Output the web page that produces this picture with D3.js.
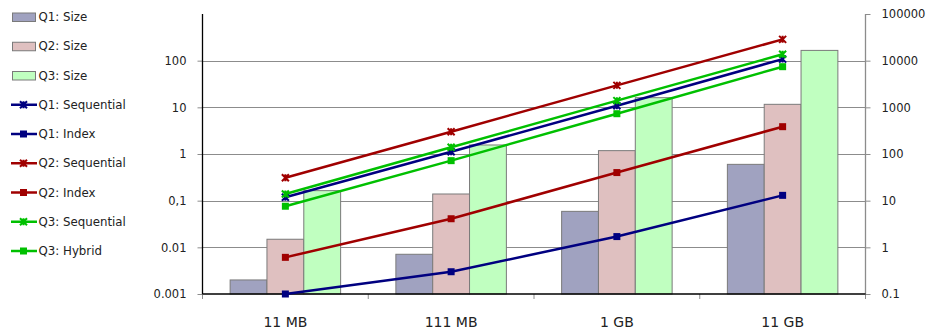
<!DOCTYPE html>
<html>
<head>
<meta charset="utf-8">
<script src="https://cdn.jsdelivr.net/npm/d3@7"></script>
<style>
  html, body { margin: 0; padding: 0; background: #fff; }
  svg { display: block; font-family: "DejaVu Sans", Verdana, sans-serif; }
</style>
</head>
<body>
<svg id="chart" width="926" height="331"></svg>
<script>
// Data sets (input sizes along the x axis)
const categories = ["11 MB", "111 MB", "1 GB", "11 GB"];

// Bars, read on the left log axis
const sizeQ1 = [0.002, 0.0071, 0.059, 0.6];
const sizeQ2 = [0.0149, 0.139, 1.18, 11.6];
const sizeQ3 = [0.164, 1.56, 16.1, 166];

// Lines, read on the right log axis
const q1Sequential = [11.8, 112, 1080, 10800];
const q1Index = [0.1, 0.3, 1.7, 13];
const q2Sequential = [31, 300, 2960, 28600];
const q2Index = [0.61, 4.1, 40, 385];
const q3Sequential = [13.9, 139, 1390, 13700];
const q3Hybrid = [7.6, 72, 730, 7430];

// Tick values and labels
const leftTicks = [0.001, 0.01, 0.1, 1, 10, 100];
const leftTickLabels = ["0.001", "0.01", "0,1", "1", "10", "100"];
const rightTicks = [0.1, 1, 10, 100, 1000, 10000, 100000];
const rightTickLabels = ["0.1", "1", "10", "100", "1000", "10000", "100000"];

const barSeries = [
  { name: "Q1: Size", values: sizeQ1, fill: "#a0a2c0" },
  { name: "Q2: Size", values: sizeQ2, fill: "#dfc0c0" },
  { name: "Q3: Size", values: sizeQ3, fill: "#c0ffc0" }
];
const lineSeries = [
  { name: "Q1: Sequential", values: q1Sequential, color: "#000080", marker: "x" },
  { name: "Q1: Index", values: q1Index, color: "#000080", marker: "square" },
  { name: "Q2: Sequential", values: q2Sequential, color: "#a00000", marker: "x" },
  { name: "Q2: Index", values: q2Index, color: "#a00000", marker: "square" },
  { name: "Q3: Sequential", values: q3Sequential, color: "#00c000", marker: "x" },
  { name: "Q3: Hybrid", values: q3Hybrid, color: "#00c000", marker: "square" }
];

const svg = d3.select("#chart");
const plot = { left: 202.5, right: 865.5, top: 14, bottom: 294 };

const x = d3.scaleBand().domain(categories).range([plot.left, plot.right]).padding(0);
const xInner = d3.scaleBand().domain(barSeries.map(s => s.name))
  .range([0, x.bandwidth()]).paddingInner(0).paddingOuter(0.75);
const yLeft = d3.scaleLog().domain([0.001, 1000]).range([plot.bottom, plot.top]);
const yRight = d3.scaleLog().domain([0.1, 100000]).range([plot.bottom, plot.top]);

// Horizontal gridlines
svg.append("g").selectAll("line").data(leftTicks.slice(1)).join("line")
  .attr("x1", plot.left).attr("x2", plot.right)
  .attr("y1", d => Math.round(yLeft(d)) + 0.5).attr("y2", d => Math.round(yLeft(d)) + 0.5)
  .attr("stroke", "#8c8c8c").attr("stroke-width", 1);

// Bars
const barG = svg.append("g");
barSeries.forEach(s => {
  barG.append("g").selectAll("rect").data(s.values).join("rect")
    .attr("x", (d, i) => x(categories[i]) + xInner(s.name))
    .attr("width", xInner.bandwidth())
    .attr("y", d => yLeft(d))
    .attr("height", d => plot.bottom - yLeft(d))
    .attr("fill", s.fill)
    .attr("stroke", "#7a7a7a").attr("stroke-width", 1);
});

// Left axis
const axL = svg.append("g").attr("transform", `translate(${plot.left},0)`)
  .call(d3.axisLeft(yLeft).tickValues(leftTicks)
    .tickFormat((d, i) => leftTickLabels[i]).tickSize(5).tickSizeOuter(0).tickPadding(11));
axL.select(".domain").remove();
axL.selectAll(".tick line").attr("stroke", "#8c8c8c");
axL.selectAll("text").attr("font-size", "11.5px").attr("fill", "#222").attr("font-family", "DejaVu Sans, sans-serif");
svg.append("line").attr("x1", plot.left).attr("x2", plot.left)
  .attr("y1", plot.top).attr("y2", plot.bottom).attr("stroke", "#000").attr("stroke-width", 1.3);

// Right axis
const axR = svg.append("g").attr("transform", `translate(${plot.right},0)`)
  .call(d3.axisRight(yRight).tickValues(rightTicks)
    .tickFormat((d, i) => rightTickLabels[i]).tickSize(5).tickSizeOuter(0).tickPadding(11));
axR.select(".domain").remove();
axR.selectAll(".tick line").attr("stroke", "#8c8c8c");
axR.selectAll("text").attr("font-size", "11.5px").attr("fill", "#222").attr("font-family", "DejaVu Sans, sans-serif");
svg.append("line").attr("x1", plot.right).attr("x2", plot.right)
  .attr("y1", plot.top).attr("y2", plot.bottom).attr("stroke", "#8c8c8c").attr("stroke-width", 1.3);

// Category axis
const boundaries = categories.map(c => x(c)).concat([plot.right]);
svg.append("g").selectAll("line").data(boundaries).join("line")
  .attr("x1", d => d).attr("x2", d => d)
  .attr("y1", plot.bottom).attr("y2", plot.bottom + 5)
  .attr("stroke", "#8c8c8c");
svg.append("line").attr("x1", plot.left).attr("x2", plot.right)
  .attr("y1", plot.bottom).attr("y2", plot.bottom).attr("stroke", "#000").attr("stroke-width", 1.3);
svg.append("g").selectAll("text").data(categories).join("text")
  .attr("x", d => x(d) + x.bandwidth() / 2).attr("y", 327)
  .attr("text-anchor", "middle").attr("font-size", "14px").attr("fill", "#222")
  .text(d => d);

// Markers
function drawMarker(g, type, cx, cy, color) {
  if (type === "square") {
    g.append("rect").attr("x", cx - 3.5).attr("y", cy - 3.5)
      .attr("width", 7).attr("height", 7).attr("fill", color);
  } else {
    const r = 3.5;
    g.append("path")
      .attr("d", `M${cx - r},${cy - r}L${cx + r},${cy + r}M${cx - r},${cy + r}L${cx + r},${cy - r}M${cx},${cy - r}L${cx},${cy + r}`)
      .attr("stroke", color).attr("stroke-width", 2).attr("fill", "none");
  }
}

// Lines
const lineGen = d3.line()
  .x((d, i) => x(categories[i]) + x.bandwidth() / 2)
  .y(d => yRight(d));
lineSeries.forEach(s => {
  const g = svg.append("g");
  g.append("path").datum(s.values).attr("d", lineGen)
    .attr("fill", "none").attr("stroke", s.color).attr("stroke-width", 2.5);
  s.values.forEach((v, i) => drawMarker(g, s.marker, x(categories[i]) + x.bandwidth() / 2, yRight(v), s.color));
});

// Legend
const legend = svg.append("g");
const rowY = i => 17 + i * 29.25;
barSeries.forEach((s, i) => {
  legend.append("rect").attr("x", 12.5).attr("y", rowY(i) - 4).attr("width", 23).attr("height", 8.5)
    .attr("fill", s.fill).attr("stroke", "#7a7a7a");
  legend.append("text").attr("x", 38.5).attr("y", rowY(i)).attr("dy", "0.36em")
    .attr("font-size", "11.8px").attr("fill", "#222").text(s.name);
});
lineSeries.forEach((s, j) => {
  const i = j + barSeries.length;
  legend.append("line").attr("x1", 11).attr("x2", 37).attr("y1", rowY(i)).attr("y2", rowY(i))
    .attr("stroke", s.color).attr("stroke-width", 2.5);
  drawMarker(legend, s.marker, 23.5, rowY(i), s.color);
  legend.append("text").attr("x", 38.5).attr("y", rowY(i)).attr("dy", "0.36em")
    .attr("font-size", "11.8px").attr("fill", "#222").text(s.name);
});
</script>
</body>
</html>
